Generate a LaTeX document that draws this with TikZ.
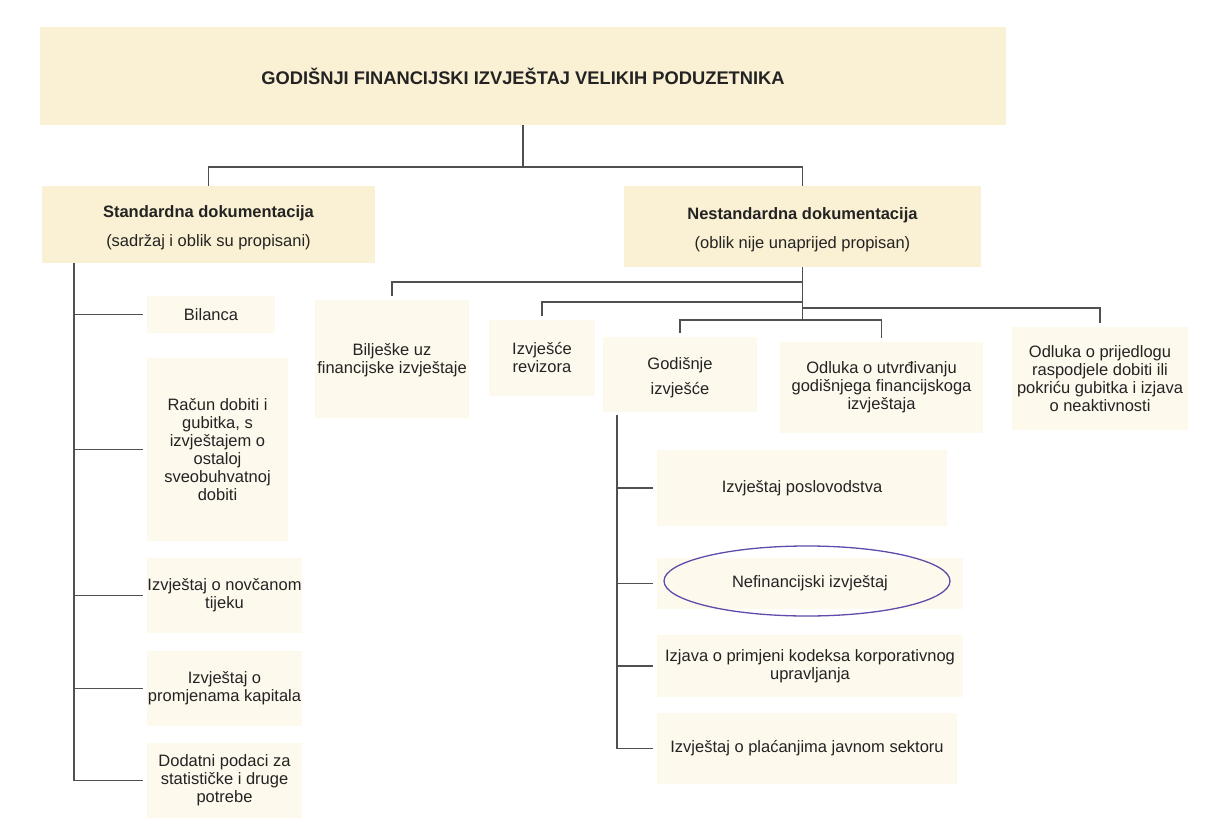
\documentclass[tikz,border=0pt]{standalone}
\usepackage{fontspec}
\setmainfont{Liberation Sans}
\usetikzlibrary{shapes.geometric}
\definecolor{fillA}{RGB}{250,240,211}
\definecolor{fillB}{RGB}{254,249,237}
\definecolor{linec}{RGB}{80,80,80}
\definecolor{txt}{RGB}{35,35,35}
\definecolor{ring}{RGB}{95,75,170}
\begin{document}
\begin{tikzpicture}[x=1pt,y=-1pt,
 base/.style={inner sep=0pt, align=center, text=txt, font=\fontsize{16.5}{18}\selectfont},
 mainbox/.style={base, fill=fillA},
 leafbox/.style={base, fill=fillB},
 conn/.style={draw=linec, line width=1.8pt},
 gap/.style={shorten >=4pt}]
\useasboundingbox (0,0) rectangle (1209,821);
% main
\node[mainbox, minimum width=966, minimum height=98, font=\bfseries\fontsize{18.3}{20}\selectfont] (top) at (523,76) {GODIŠNJI FINANCIJSKI IZVJEŠTAJ VELIKIH PODUZETNIKA};
\node[mainbox, minimum width=333, minimum height=77] (std) at (208.5,224.5) {\rule{0pt}{18pt}\textbf{Standardna dokumentacija}\\[11pt](sadržaj i oblik su propisani)};
\node[mainbox, minimum width=357, minimum height=81] (nstd) at (802.5,226.5) {\rule{0pt}{18pt}\textbf{Nestandardna dokumentacija}\\[11pt](oblik nije unaprijed propisan)};
% standard leaves
\node[leafbox, minimum width=128, minimum height=37] (bil) at (211,314.5) {Bilanca};
\node[leafbox, minimum width=141, minimum height=183] (rac) at (217.5,449.5) {Račun dobiti i\\gubitka, s\\izvještajem o\\ostaloj\\sveobuhvatnoj\\dobiti};
\node[leafbox, minimum width=155, minimum height=75] (nov) at (224.5,595.5) {Izvještaj o novčanom\\tijeku};
\node[leafbox, minimum width=155, minimum height=75] (kap) at (224.5,688.5) {Izvještaj o\\promjenama kapitala};
\node[leafbox, minimum width=155, minimum height=75] (dod) at (224.5,780.5) {Dodatni podaci za\\statističke i druge\\potrebe};
% nonstandard leaves
\node[leafbox, minimum width=154, minimum height=118] (blj) at (392,359) {\rule{0pt}{15pt}Bilješke uz\\financijske izvještaje};
\node[leafbox, minimum width=106, minimum height=76] (rev) at (542,358) {Izvješće\\revizora};
\node[leafbox, minimum width=154, minimum height=75] (god) at (680,374.5) {\rule{0pt}{18pt}Godišnje\\[7pt]izvješće};
\node[leafbox, minimum width=203, minimum height=91] (utv) at (881.5,387.5) {Odluka o utvrđivanju\\godišnjega financijskoga\\izvještaja};
\node[leafbox, minimum width=176, minimum height=103] (pri) at (1100,378.5) {Odluka o prijedlogu\\raspodjele dobiti ili\\pokriću gubitka i izjava\\o neaktivnosti};
% annual report leaves
\node[leafbox, minimum width=290, minimum height=76] (pos) at (802,488) {Izvještaj poslovodstva};
\node[leafbox, minimum width=306, minimum height=51] (nef) at (810,583.5) {Nefinancijski izvještaj};
\node[leafbox, minimum width=306, minimum height=62] (izj) at (810,666) {Izjava o primjeni kodeksa korporativnog\\upravljanja};
\node[leafbox, minimum width=300, minimum height=71] (pla) at (807,748.5) {Izvještaj o plaćanjima javnom sektoru};
\node[ellipse, draw=ring, line width=1.3pt, minimum width=286, minimum height=70, inner sep=0pt] (nefring) at (807,581) {};
% connectors top
\draw[conn] (top.south) -- ++(0,42) coordinate (h1);
\draw[conn] (std.north) |- (h1) -| (nstd.north);
% standard
\coordinate (sv) at (74,263);
\draw[conn, gap] (sv) |- (dod.west);
\foreach \n in {bil,rac,nov,kap} \draw[conn, gap] (\n.west -| sv) -- (\n.west);
% nonstandard
\draw[conn] (nstd.south) -- ++(0,53) coordinate (nv);
\draw[conn, gap] (nstd.south) ++(0,15) -| (blj.north);
\draw[conn, gap] (nstd.south) ++(0,35) -| (rev.north);
\draw[conn, gap] (nstd.south) ++(0,41) -| (pri.north);
\draw[conn, gap] (nv) -| (god.north);
\draw[conn, gap] (nv) -| (utv.north);
% annual report
\coordinate (gv) at (617,415);
\draw[conn, gap] (gv) |- (pla.west);
\foreach \n in {pos,nef,izj} \draw[conn, gap] (\n.west -| gv) -- (\n.west);
\end{tikzpicture}
\end{document}
